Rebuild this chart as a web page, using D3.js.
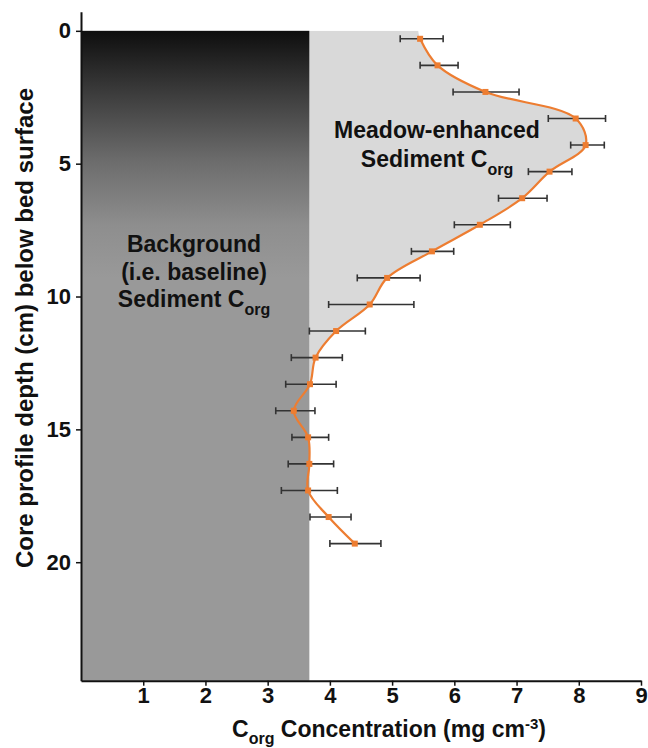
<!DOCTYPE html>
<html>
<head>
<meta charset="utf-8">
<script src="https://cdn.jsdelivr.net/npm/d3@7/dist/d3.min.js"></script>
<style>
  html, body { margin: 0; padding: 0; background: #fff; }
  svg { display: block; font-family: "Liberation Sans", Arial, sans-serif; }
</style>
</head>
<body>
<svg id="chart" width="648" height="748"></svg>
<script>
// ---- data ----
const depths   = [0.3, 1.3, 2.3, 3.3, 4.3, 5.3, 6.3, 7.3, 8.3, 9.3, 10.3, 11.3, 12.3, 13.3, 14.3, 15.3, 16.3, 17.3, 18.3, 19.3];
const corg     = [5.45, 5.73, 6.50, 7.95, 8.11, 7.53, 7.09, 6.41, 5.64, 4.92, 4.64, 4.10, 3.77, 3.68, 3.42, 3.65, 3.67, 3.65, 3.98, 4.40];
const errLow   = [5.13, 5.45, 5.98, 7.51, 7.87, 7.19, 6.71, 6.00, 5.31, 4.44, 3.98, 3.67, 3.38, 3.29, 3.13, 3.39, 3.33, 3.22, 3.68, 4.00];
const errHigh  = [5.82, 6.06, 7.04, 8.43, 8.41, 7.89, 7.49, 6.90, 5.99, 5.45, 5.35, 4.57, 4.20, 4.10, 3.76, 3.98, 4.06, 4.12, 4.34, 4.82];
const background = 3.67;      // baseline Corg (mg cm-3)
const fillTopValue = 5.42;    // edge of enhanced fill at the surface
const enhancedEndDepth = 13.3;
const xTicks = [1, 2, 3, 4, 5, 6, 7, 8, 9];
const yTicks = [0, 5, 10, 15, 20];
const xDomain = [0, 9];
const yDomain = [-0.72, 24.46];

const points = depths.map((d, i) => ({ depth: d, v: corg[i], lo: errLow[i], hi: errHigh[i] }));

const svg = d3.select("#chart");
const x = d3.scaleLinear().domain(xDomain).range([81, 641]);
const y = d3.scaleLinear().domain(yDomain).range([11.7, 680.7]);

// gradient for background band
const defs = svg.append("defs");
const grad = defs.append("linearGradient").attr("id", "bgGrad")
  .attr("x1", 0).attr("y1", 0).attr("x2", 0).attr("y2", 1);
[[0, "#0e0e0e"], [0.1, "#3e3e3e"], [0.2, "#6c6c6c"], [0.3, "#8e8e8e"], [0.38, "#999999"], [1, "#999999"]]
  .forEach(([o, c]) => grad.append("stop").attr("offset", o).attr("stop-color", c));

defs.append("clipPath").attr("id", "enhClip").append("rect")
  .attr("x", x(0)).attr("y", y(0))
  .attr("width", x(9) - x(0)).attr("height", y(enhancedEndDepth) - y(0));

const curve = d3.curveCatmullRom.alpha(0.5);

// enhanced fill (light grey)
const fillData = [{ depth: 0, v: fillTopValue }].concat(points);
svg.append("path")
  .datum(fillData)
  .attr("clip-path", "url(#enhClip)")
  .attr("fill", "#d9d9d9")
  .attr("d", d3.area().curve(curve)
    .y(d => y(d.depth)).x0(x(background)).x1(d => x(d.v)));

// background band
svg.append("rect")
  .attr("x", x(0)).attr("y", y(0))
  .attr("width", x(background) - x(0))
  .attr("height", y(yDomain[1]) - y(0))
  .attr("fill", "url(#bgGrad)");

// axes
const yAxis = svg.append("g").attr("transform", `translate(${x(0)},0)`)
  .call(d3.axisLeft(y).tickValues(yTicks).tickSize(5).tickSizeOuter(0).tickPadding(5));
const xAxis = svg.append("g").attr("transform", `translate(0,${y(yDomain[1])})`)
  .call(d3.axisBottom(x).tickValues(xTicks).tickSize(5).tickSizeOuter(0).tickPadding(2));
[yAxis, xAxis].forEach(g => {
  g.select(".domain").attr("stroke", "#111").attr("stroke-width", 2);
  g.selectAll(".tick line").attr("stroke", "#111").attr("stroke-width", 1.5);
  g.selectAll(".tick text").attr("fill", "#111").style("font-size", "22px").style("font-weight", "bold")
    .style("font-family", '"Liberation Sans", Arial, sans-serif');
});

// error bars
const eb = svg.append("g").attr("stroke", "#333").attr("stroke-width", 1.6);
eb.selectAll("line.h").data(points).join("line")
  .attr("x1", d => x(d.lo)).attr("x2", d => x(d.hi))
  .attr("y1", d => y(d.depth)).attr("y2", d => y(d.depth));
eb.selectAll("line.cl").data(points).join("line")
  .attr("x1", d => x(d.lo)).attr("x2", d => x(d.lo))
  .attr("y1", d => y(d.depth) - 3.5).attr("y2", d => y(d.depth) + 3.5);
eb.selectAll("line.ch").data(points).join("line")
  .attr("x1", d => x(d.hi)).attr("x2", d => x(d.hi))
  .attr("y1", d => y(d.depth) - 3.5).attr("y2", d => y(d.depth) + 3.5);

// curve
svg.append("path").datum(points)
  .attr("fill", "none").attr("stroke", "#ED7D31").attr("stroke-width", 2.2)
  .attr("d", d3.line().curve(curve).x(d => x(d.v)).y(d => y(d.depth)));

// markers
svg.append("g").selectAll("rect").data(points).join("rect")
  .attr("x", d => x(d.v) - 3).attr("y", d => y(d.depth) - 3)
  .attr("width", 6).attr("height", 6).attr("fill", "#ED7D31");

// labels
function label(lines, cx, y0, dy) {
  const g = svg.append("g").attr("font-size", 23).attr("font-weight", "bold").attr("fill", "#111")
    .attr("text-anchor", "middle");
  lines.forEach((ln, i) => {
    const t = g.append("text").attr("x", cx).attr("y", y0 + i * dy);
    t.append("tspan").text(ln.main);
    if (ln.sub) t.append("tspan").attr("font-size", 16).attr("dy", 8).text(ln.sub);
  });
}
label([{ main: "Meadow-enhanced" }, { main: "Sediment C", sub: "org" }], 437, 138, 29);
label([{ main: "Background" }, { main: "(i.e. baseline)" }, { main: "Sediment C", sub: "org" }], 194, 252, 27.5);

// axis titles
const xt = svg.append("text").attr("x", 389).attr("y", 737).attr("text-anchor", "middle")
  .attr("font-size", 23).attr("font-weight", "bold").attr("fill", "#111");
xt.append("tspan").text("C");
xt.append("tspan").attr("font-size", 16).attr("dy", 7).text("org");
xt.append("tspan").attr("dy", -7).text(" Concentration (mg cm");
xt.append("tspan").attr("font-size", 15).attr("dy", -8).text("-3");
xt.append("tspan").attr("dy", 8).text(")");

svg.append("text")
  .attr("transform", "translate(33,328) rotate(-90)")
  .attr("text-anchor", "middle").attr("font-size", 24).attr("font-weight", "bold").attr("fill", "#111")
  .text("Core profile depth (cm) below bed surface");
</script>
</body>
</html>
